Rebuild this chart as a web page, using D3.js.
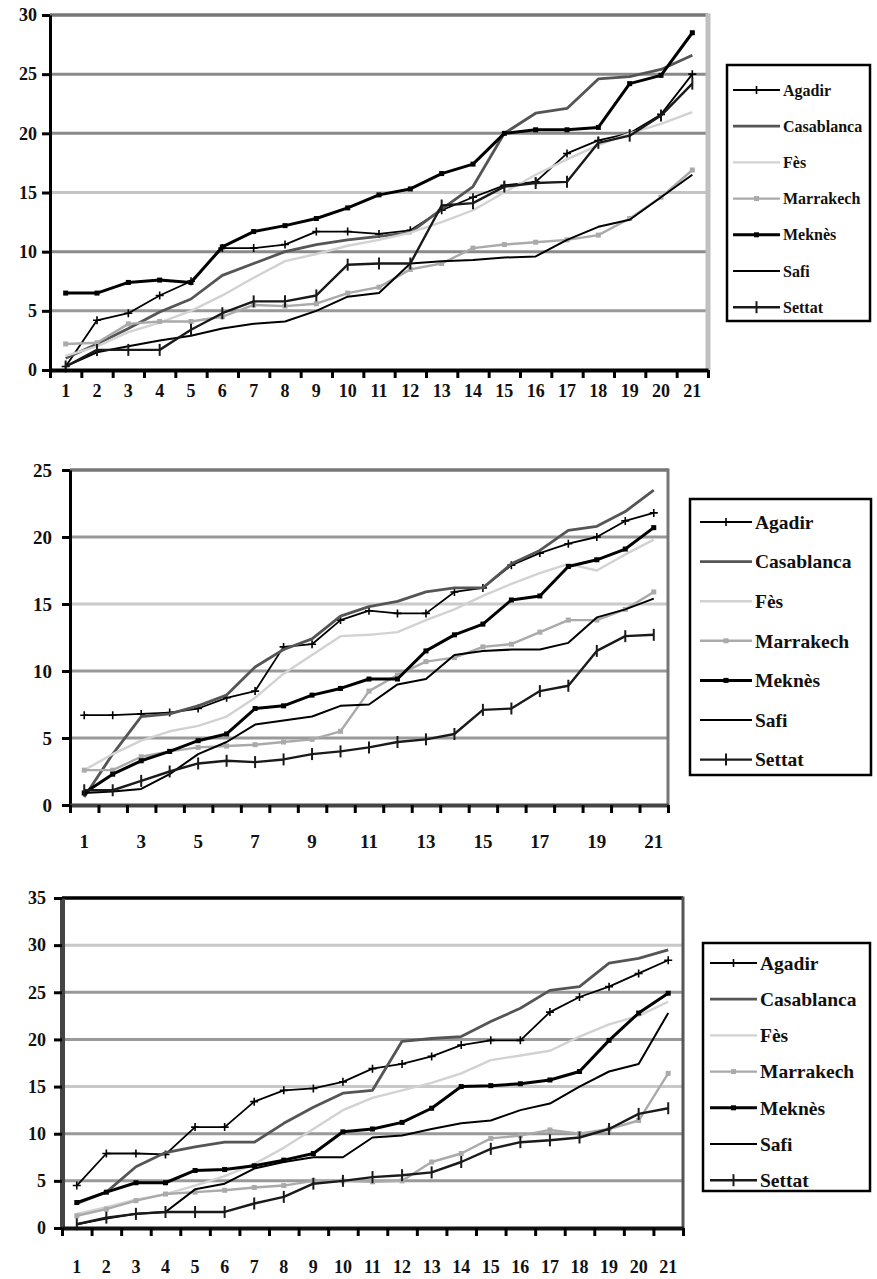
<!DOCTYPE html>
<meta charset="utf-8">
<style>
  body { margin: 0; background: #fff; }
  svg text { font-family: "Liberation Serif", "DejaVu Serif", serif; font-weight: bold; fill: #111; }
</style>
<body>
<svg id="chart"></svg>
<script src="https://d3js.org/d3.v7.min.js"></script>
<script>
var categories = ["1", "2", "3", "4", "5", "6", "7", "8", "9", "10", "11", "12", "13", "14", "15", "16", "17", "18", "19", "20", "21"];
var cities = ["Agadir", "Casablanca", "Fès", "Marrakech", "Meknès", "Safi", "Settat"];

// chart 1
var yTicks1 = [0, 5, 10, 15, 20, 25, 30];
var agadir1 = [0.3, 4.2, 4.8, 6.3, 7.5, 10.3, 10.3, 10.6, 11.7, 11.7, 11.5, 11.8, 13.5, 14.6, 15.6, 15.9, 18.3, 19.4, 20.0, 21.6, 25.0];
var casablanca1 = [1.0, 2.2, 3.5, 4.9, 6.0, 8.0, 9.0, 10.0, 10.6, 11.0, 11.3, 11.6, 13.6, 15.5, 20.0, 21.7, 22.1, 24.6, 24.8, 25.4, 26.6];
var fes1 = [1.2, 2.0, 3.2, 4.0, 5.0, 6.3, 7.8, 9.2, 9.8, 10.5, 11.0, 11.6, 12.5, 13.5, 15.0, 16.5, 17.8, 19.0, 20.0, 20.8, 21.8];
var marrakech1 = [2.2, 2.3, 3.9, 4.1, 4.1, 4.5, 5.5, 5.4, 5.6, 6.5, 7.0, 8.5, 9.0, 10.3, 10.6, 10.8, 11.0, 11.4, 12.8, 14.6, 16.9];
var meknes1 = [6.5, 6.5, 7.4, 7.6, 7.4, 10.4, 11.7, 12.2, 12.8, 13.7, 14.8, 15.3, 16.6, 17.4, 20.0, 20.3, 20.3, 20.5, 24.2, 24.9, 28.5];
var safi1 = [0.3, 1.5, 2.0, 2.5, 2.9, 3.5, 3.9, 4.1, 5.0, 6.2, 6.5, 9.0, 9.2, 9.3, 9.5, 9.6, 11.0, 12.1, 12.7, 14.6, 16.5];
var settat1 = [0.3, 1.7, 1.7, 1.7, 3.4, 4.8, 5.8, 5.8, 6.3, 8.9, 9.0, 9.0, 13.9, 14.1, 15.5, 15.8, 15.9, 19.2, 19.8, 21.5, 24.2];

// chart 2
var yTicks2 = [0, 5, 10, 15, 20, 25];
var agadir2 = [6.7, 6.7, 6.8, 6.9, 7.2, 8.0, 8.5, 11.8, 12.0, 13.8, 14.5, 14.3, 14.3, 15.9, 16.2, 17.9, 18.8, 19.5, 20.0, 21.2, 21.8];
var casablanca2 = [0.6, 3.8, 6.6, 6.8, 7.4, 8.2, 10.3, 11.6, 12.4, 14.1, 14.8, 15.2, 15.9, 16.2, 16.2, 18.0, 19.0, 20.5, 20.8, 21.9, 23.5];
var fes2 = [2.6, 3.8, 4.8, 5.5, 5.9, 6.6, 8.0, 9.8, 11.2, 12.6, 12.7, 12.9, 13.8, 14.6, 15.6, 16.5, 17.3, 18.0, 17.5, 18.7, 19.8];
var marrakech2 = [2.6, 2.6, 3.6, 4.0, 4.3, 4.4, 4.5, 4.7, 4.9, 5.5, 8.5, 9.7, 10.7, 11.0, 11.8, 12.0, 12.9, 13.8, 13.8, 14.6, 15.9];
var meknes2 = [0.9, 2.3, 3.3, 4.0, 4.8, 5.3, 7.2, 7.4, 8.2, 8.7, 9.4, 9.4, 11.5, 12.7, 13.5, 15.3, 15.6, 17.8, 18.3, 19.1, 20.7];
var safi2 = [0.9, 1.0, 1.2, 2.3, 3.8, 4.7, 6.0, 6.3, 6.6, 7.4, 7.5, 9.0, 9.4, 11.2, 11.5, 11.6, 11.6, 12.1, 14.0, 14.6, 15.4];
var settat2 = [1.1, 1.1, 1.8, 2.5, 3.1, 3.3, 3.2, 3.4, 3.8, 4.0, 4.3, 4.7, 4.9, 5.3, 7.1, 7.2, 8.5, 8.9, 11.5, 12.6, 12.7];

// chart 3
var yTicks3 = [0, 5, 10, 15, 20, 25, 30, 35];
var agadir3 = [4.5, 7.9, 7.9, 7.8, 10.7, 10.7, 13.4, 14.6, 14.8, 15.5, 16.9, 17.4, 18.2, 19.4, 19.9, 19.9, 22.9, 24.5, 25.6, 27.0, 28.4];
var casablanca3 = [2.6, 3.8, 6.5, 8.0, 8.6, 9.1, 9.1, 11.1, 12.8, 14.3, 14.6, 19.8, 20.1, 20.3, 21.9, 23.3, 25.2, 25.6, 28.1, 28.6, 29.5];
var fes3 = [1.5, 2.2, 3.0, 3.6, 4.5, 5.5, 6.8, 8.5, 10.5, 12.5, 13.8, 14.6, 15.4, 16.4, 17.8, 18.3, 18.8, 20.3, 21.6, 22.5, 24.0];
var marrakech3 = [1.3, 2.0, 2.9, 3.6, 3.8, 4.0, 4.3, 4.5, 5.0, 5.0, 4.9, 5.0, 7.0, 7.9, 9.5, 9.8, 10.4, 10.0, 10.5, 11.4, 16.4];
var meknes3 = [2.7, 3.8, 4.8, 4.8, 6.1, 6.2, 6.6, 7.2, 7.9, 10.2, 10.5, 11.2, 12.7, 15.0, 15.1, 15.3, 15.7, 16.6, 19.9, 22.8, 24.9];
var safi3 = [0.4, 1.0, 1.5, 1.7, 4.1, 4.7, 6.3, 7.0, 7.5, 7.5, 9.6, 9.8, 10.5, 11.1, 11.4, 12.5, 13.2, 15.0, 16.6, 17.4, 22.8];
var settat3 = [0.4, 1.1, 1.5, 1.7, 1.7, 1.7, 2.6, 3.3, 4.7, 5.0, 5.4, 5.6, 5.9, 7.0, 8.4, 9.1, 9.3, 9.6, 10.5, 12.1, 12.7];

var width = 877, height = 1279;

// line look per city (same order as cities)
var styles = [
  { color: "#000", width: 1.8, marker: "plus" },
  { color: "#555", width: 2.8, marker: "none" },
  { color: "#d2d2d2", width: 2.4, marker: "none" },
  { color: "#aaa", width: 2.4, marker: "square" },
  { color: "#000", width: 3, marker: "square" },
  { color: "#000", width: 2, marker: "none" },
  { color: "#1a1a1a", width: 2.4, marker: "tick" }
];

var svg = d3.select("#chart")
  .attr("width", width)
  .attr("height", height);

svg.append("rect").attr("width", width).attr("height", height).attr("fill", "#fff");

var panels = [
  {
    values: [agadir1, casablanca1, fes1, marrakech1, meknes1, safi1, settat1],
    ticks: yTicks1, max: 30,
    left: 50, right: 708, top: 15, bottom: 370,
    gridColor: { 5: "#999", 10: "#8a8a8a", 15: "#c4c4c4", 20: "#8a8a8a", 25: "#8a8a8a", 30: "#777" },
    leftAxis: "#000", leftWidth: 3, rightColor: "#c0c0c0", rightWidth: 5, topColor: "#777",
    bottomColor: "#000", labelStep: 1, labelPad: 14, yLabelPad: 13, fontSize: 18,
    legend: { x: 727, y: 65, w: 143, h: 256, first: 25, step: 36.2, x0: 733, x1: 780, fontSize: 16 }
  },
  {
    values: [agadir2, casablanca2, fes2, marrakech2, meknes2, safi2, settat2],
    ticks: yTicks2, max: 25,
    left: 70, right: 668, top: 470, bottom: 805,
    gridColor: { 5: "#999", 10: "#999", 15: "#cacaca", 20: "#999", 25: "#777" },
    leftAxis: "#000", leftWidth: 3, rightColor: "#777", rightWidth: 3, topColor: "#777",
    bottomColor: "#444", labelStep: 2, labelPad: 30, yLabelPad: 18, fontSize: 19,
    legend: { x: 690, y: 499, w: 181, h: 276, first: 23, step: 39.6, x0: 700, x1: 752, fontSize: 19.5 }
  },
  {
    values: [agadir3, casablanca3, fes3, marrakech3, meknes3, safi3, settat3],
    ticks: yTicks3, max: 35,
    left: 62, right: 683, top: 898, bottom: 1228,
    gridColor: { 5: "#999", 10: "#999", 15: "#c8c8c8", 20: "#999", 25: "#999", 30: "#c8c8c8", 35: "#000" },
    leftAxis: "#444", leftWidth: 5, rightColor: "#555", rightWidth: 3, topColor: "#000",
    bottomColor: "#111", labelStep: 1, labelPad: 32, yLabelPad: 16, fontSize: 18,
    legend: { x: 703, y: 943, w: 167, h: 248, first: 20, step: 36.2, x0: 710, x1: 757, fontSize: 19.5 }
  }
];

function drawMarker(g, kind, cx, cy, color) {
  if (kind == "plus") {
    g.append("path").attr("d", "M" + (cx - 4) + "," + cy + "H" + (cx + 4) + "M" + cx + "," + (cy - 4) + "V" + (cy + 4))
      .attr("stroke", color).attr("stroke-width", 1.6).attr("fill", "none");
  } else if (kind == "square") {
    g.append("rect").attr("x", cx - 2.5).attr("y", cy - 2.5).attr("width", 5).attr("height", 5).attr("fill", color);
  } else if (kind == "tick") {
    g.append("path").attr("d", "M" + cx + "," + (cy - 6) + "V" + (cy + 6))
      .attr("stroke", color).attr("stroke-width", 2);
  }
}

panels.forEach(function (p) {
  var g = svg.append("g");

  var x = d3.scaleBand().domain(categories).range([p.left, p.right]);
  var xEdge = d3.scaleLinear().domain([0, categories.length]).range([p.left, p.right]);
  var y = d3.scaleLinear().domain([0, p.max]).range([p.bottom, p.top]);

  // gridlines
  g.selectAll(".grid")
    .data(p.ticks.filter(function (t) { return t > 0; }))
    .enter().append("line")
    .attr("x1", p.left).attr("x2", p.right)
    .attr("y1", function (d) { return y(d); })
    .attr("y2", function (d) { return y(d); })
    .attr("stroke", function (d) { return p.gridColor[d]; })
    .attr("stroke-width", 3);

  // top + right border
  g.append("line").attr("x1", p.left).attr("x2", p.right).attr("y1", p.top).attr("y2", p.top)
    .attr("stroke", p.topColor).attr("stroke-width", 3);
  g.append("line").attr("x1", p.right).attr("x2", p.right).attr("y1", p.top - 1.5).attr("y2", p.bottom)
    .attr("stroke", p.rightColor).attr("stroke-width", p.rightWidth);

  // series
  var line = d3.line()
    .x(function (d, i) { return x(categories[i]) + x.bandwidth() / 2; })
    .y(function (d) { return y(d); });

  p.values.forEach(function (vals, k) {
    var st = styles[k];
    g.append("path")
      .datum(vals)
      .attr("d", line)
      .attr("fill", "none")
      .attr("stroke", st.color)
      .attr("stroke-width", st.width)
      .attr("stroke-linejoin", "round");
    vals.forEach(function (v, i) {
      drawMarker(g, st.marker, x(categories[i]) + x.bandwidth() / 2, y(v), st.color);
    });
  });

  // y axis
  var ya = g.append("g")
    .attr("transform", "translate(" + p.left + ",0)")
    .call(d3.axisLeft(y).tickValues(p.ticks).tickSize(8).tickPadding(p.yLabelPad - 8).tickSizeOuter(0));
  ya.select(".domain").attr("stroke", p.leftAxis).attr("stroke-width", p.leftWidth);
  ya.selectAll(".tick line").attr("stroke", "#000").attr("stroke-width", 3);
  ya.selectAll("text").style("font-size", p.fontSize + "px");

  // x axis: ticks on category edges, labels on centres
  var xe = g.append("g")
    .attr("transform", "translate(0," + p.bottom + ")")
    .call(d3.axisBottom(xEdge).tickValues(d3.range(categories.length + 1)).tickSize(8).tickFormat("").tickSizeOuter(0));
  xe.select(".domain").attr("stroke", p.bottomColor).attr("stroke-width", 4);
  xe.selectAll(".tick line").attr("stroke", "#000").attr("stroke-width", 3);

  var xl = g.append("g")
    .attr("transform", "translate(0," + p.bottom + ")")
    .call(d3.axisBottom(x)
      .tickValues(categories.filter(function (c, i) { return i % p.labelStep == 0; }))
      .tickSize(0).tickPadding(p.labelPad));
  xl.select(".domain").remove();
  xl.selectAll("text").style("font-size", p.fontSize + "px");

  // legend
  var L = p.legend;
  var lg = g.append("g");
  lg.append("rect").attr("x", L.x).attr("y", L.y).attr("width", L.w).attr("height", L.h)
    .attr("fill", "#fff").attr("stroke", "#000").attr("stroke-width", 2.5);
  cities.forEach(function (c, k) {
    var st = styles[k];
    var ly = L.y + L.first + k * L.step;
    lg.append("line").attr("x1", L.x0).attr("x2", L.x1).attr("y1", ly).attr("y2", ly)
      .attr("stroke", st.color).attr("stroke-width", st.width);
    drawMarker(lg, st.marker, (L.x0 + L.x1) / 2, ly, st.color);
    lg.append("text").attr("x", L.x1 + 3).attr("y", ly).attr("dy", "0.35em")
      .style("font-size", L.fontSize + "px").text(c);
  });
});
</script>
</body>
